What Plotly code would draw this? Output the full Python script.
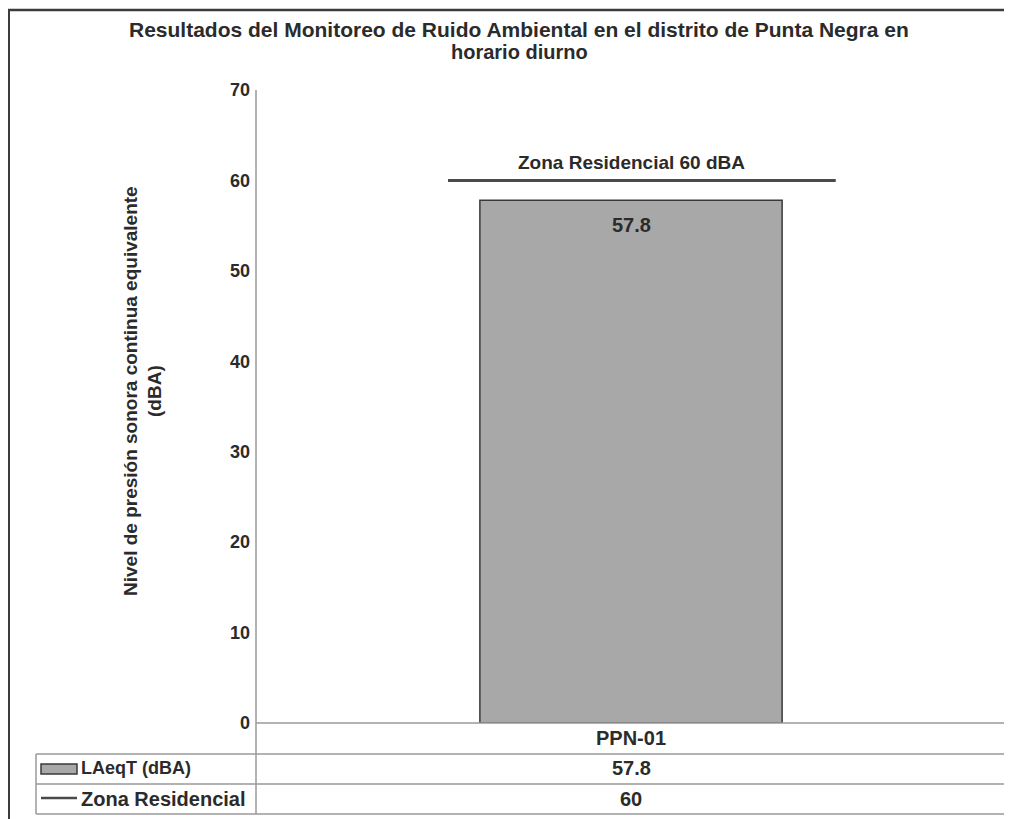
import plotly.graph_objects as go

# ---- data ----
categories = ["PPN-01"]
laeq_values = [57.8]
limit_values = [60]
series_names = ["LAeqT (dBA)", "Zona Residencial"]
limit_label = "Zona Residencial 60 dBA"
title_lines = ["Resultados del Monitoreo de Ruido Ambiental en el distrito de Punta Negra en", "horario diurno"]
y_title_lines = ["Nivel de presión sonora continua equivalente", "(dBA)"]
y_ticks = [0, 10, 20, 30, 40, 50, 60, 70]

# page offset (browser body margin)
OFF = 8
W, H = 1012 - OFF, 819 - OFF
L, R, T, B = 256, 1006, 90, 723  # plot area in page pixels

def px(x):
    return (x - L) / (R - L)

def py(y):
    return (B - y) / (B - T)

SANS = "Liberation Sans, Arial, sans-serif"
TXT = "#2b2b2b"

fig = go.Figure()
fig.add_trace(go.Bar(
    x=[0], y=laeq_values, width=0.403,
    marker=dict(color="#a8a8a8", line=dict(color="#3a3a3a", width=1.5)),
    showlegend=False, hoverinfo="skip",
))
fig.add_trace(go.Scatter(
    x=[-0.244, 0.273], y=[limit_values[0], limit_values[0]], mode="lines",
    line=dict(color="#4a4a4a", width=3), showlegend=False, hoverinfo="skip",
))

ann = []
# bar label
ann.append(dict(x=0, y=laeq_values[0], xref="x", yref="y", text=f"<b>{laeq_values[0]}</b>",
                showarrow=False, yanchor="top", yshift=-12, font=dict(family=SANS, size=20, color=TXT)))
# limit label
ann.append(dict(x=0, y=limit_values[0], xref="x", yref="y", text=f"<b>{limit_label}</b>",
                showarrow=False, yanchor="bottom", yshift=5, font=dict(family=SANS, size=19, color=TXT)))
# title
ann.append(dict(x=px(519), y=py(30), xref="paper", yref="paper", text=f"<b>{title_lines[0]}</b>",
                showarrow=False, xanchor="center", yanchor="middle", font=dict(family=SANS, size=21, color=TXT)))
ann.append(dict(x=px(519), y=py(52), xref="paper", yref="paper", text=f"<b>{title_lines[1]}</b>",
                showarrow=False, xanchor="center", yanchor="middle", font=dict(family=SANS, size=20, color=TXT)))
# y title
ann.append(dict(x=px(131), y=py(391), xref="paper", yref="paper", text=f"<b>{y_title_lines[0]}</b>",
                showarrow=False, textangle=-90, xanchor="center", yanchor="middle",
                font=dict(family=SANS, size=19, color=TXT)))
ann.append(dict(x=px(155), y=py(391), xref="paper", yref="paper", text=f"<b>{y_title_lines[1]}</b>",
                showarrow=False, textangle=-90, xanchor="center", yanchor="middle",
                font=dict(family=SANS, size=19, color=TXT)))
# table texts
row_y = [738, 768, 799]
ann.append(dict(x=0, y=py(row_y[0]), xref="x", yref="paper", text=f"<b>{categories[0]}</b>",
                showarrow=False, yanchor="middle", font=dict(family=SANS, size=20, color=TXT)))
ann.append(dict(x=0, y=py(row_y[1]), xref="x", yref="paper", text=f"<b>{laeq_values[0]}</b>",
                showarrow=False, yanchor="middle", font=dict(family=SANS, size=20, color=TXT)))
ann.append(dict(x=0, y=py(row_y[2]), xref="x", yref="paper", text=f"<b>{limit_values[0]}</b>",
                showarrow=False, yanchor="middle", font=dict(family=SANS, size=20, color=TXT)))
ann.append(dict(x=px(79), y=py(row_y[1]), xref="paper", yref="paper", text=f"<b>{series_names[0]}</b>",
                showarrow=False, xanchor="left", yanchor="middle", font=dict(family=SANS, size=18, color=TXT)))
ann.append(dict(x=px(79), y=py(row_y[2]), xref="paper", yref="paper", text=f"<b>{series_names[1]}</b>",
                showarrow=False, xanchor="left", yanchor="middle", font=dict(family=SANS, size=20, color=TXT)))

shapes = []
def hline(y, x0, x1, color="#9a9a9a", w=1.5):
    shapes.append(dict(type="line", xref="paper", yref="paper", x0=px(x0), x1=px(x1), y0=py(y), y1=py(y),
                       line=dict(color=color, width=w)))
def vline(x, y0, y1, color="#9a9a9a", w=1.5):
    shapes.append(dict(type="line", xref="paper", yref="paper", x0=px(x), x1=px(x), y0=py(y0), y1=py(y1),
                       line=dict(color=color, width=w)))

# axes / table grid
vline(256, 90, 814)
hline(723, 256, 1006)
for yy in (754, 784, 814):
    hline(yy, 36, 1006)
vline(36, 754, 814)
vline(1006, 723, 814)
# outer border
hline(10, 8, 1012, color="#3c3c3c", w=2.5)
vline(9, 10, 819, color="#3c3c3c", w=2)
# legend keys
shapes.append(dict(type="rect", xref="paper", yref="paper", x0=px(41), x1=px(77), y0=py(764), y1=py(774),
                   fillcolor="#a8a8a8", line=dict(color="#3a3a3a", width=1.5)))
hline(798, 41, 77, color="#4a4a4a", w=2.5)

fig.update_layout(
    width=W, height=H,
    margin=dict(l=L - OFF, r=(1012 - R), t=T - OFF, b=(819 - B)),
    paper_bgcolor="white", plot_bgcolor="white",
    xaxis=dict(range=[-0.5, 0.5], showticklabels=False, showgrid=False, zeroline=False, showline=False,
               fixedrange=True),
    yaxis=dict(range=[0, 70], tickvals=y_ticks, ticktext=[f"<b>{v}</b>" for v in y_ticks],
               showgrid=False, zeroline=False, showline=False, ticks="",
               tickfont=dict(family=SANS, size=18, color=TXT), ticklabelstandoff=5),
    annotations=ann, shapes=shapes, showlegend=False,
)

fig.write_html("out.html")
